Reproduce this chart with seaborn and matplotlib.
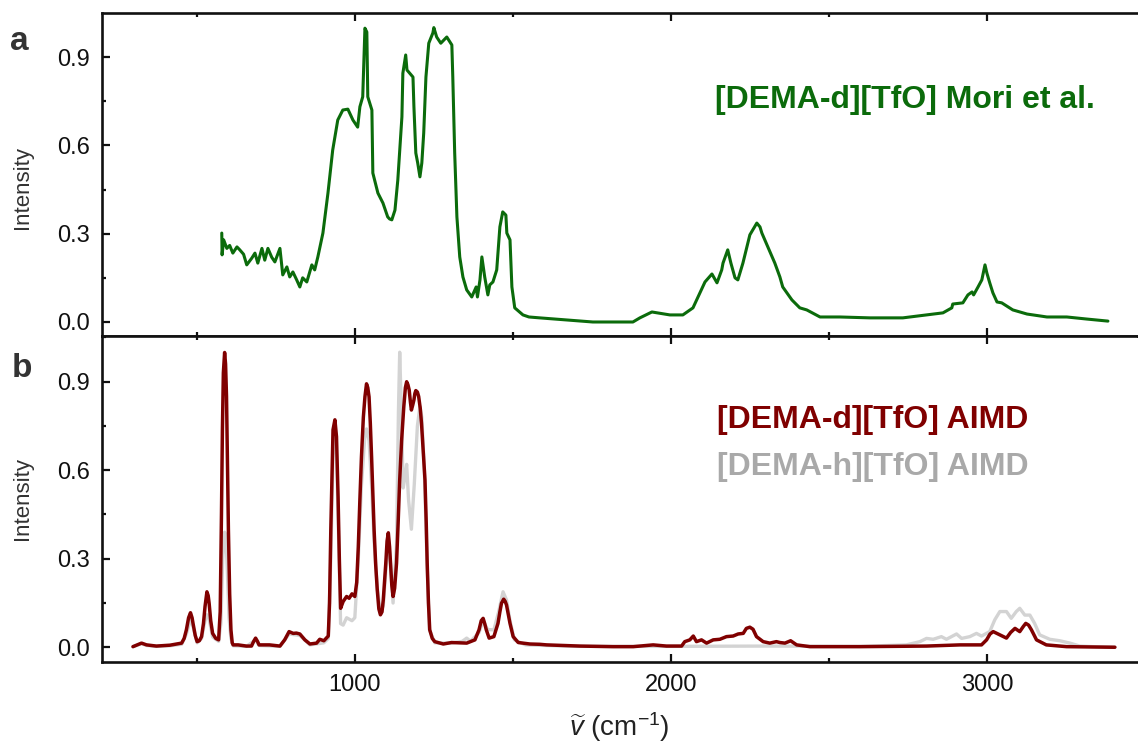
import matplotlib
matplotlib.use("Agg")
import matplotlib.pyplot as plt
import seaborn as sns
from matplotlib.ticker import MultipleLocator, FormatStrFormatter

# ---------------- data ----------------
mori_wn = [579, 580, 585, 595, 604, 614, 627, 636, 648, 658, 674, 684, 693, 706, 715, 725, 737, 747,
           763, 772, 785, 794, 804, 816, 826, 835, 848, 864, 873, 883, 899, 915, 930, 946, 962, 978,
           994, 1009, 1016, 1025, 1032, 1038, 1041, 1054, 1057, 1073, 1089, 1104, 1110, 1117, 1127,
           1136, 1149, 1152, 1161, 1165, 1184, 1187, 1193, 1199, 1206, 1212, 1218, 1225, 1234, 1247,
           1250, 1259, 1272, 1291, 1307, 1310, 1316, 1323, 1332, 1342, 1354, 1370, 1384, 1388, 1396,
           1402, 1411, 1421, 1427, 1437, 1449, 1459, 1468, 1478, 1481, 1491, 1497, 1506, 1532, 1551,
           1585, 1671, 1753, 1816, 1880, 1902, 1940, 1997, 2038, 2070, 2108, 2130, 2146, 2161, 2165,
           2180, 2190, 2203, 2212, 2228, 2250, 2272, 2282, 2288, 2307, 2329, 2345, 2354, 2383, 2408,
           2430, 2472, 2535, 2630, 2734, 2778, 2861, 2889, 2892, 2924, 2940, 2953, 2958, 2972, 2984,
           2994, 3000, 3009, 3019, 3032, 3047, 3082, 3127, 3190, 3253, 3316, 3383]
mori_int = [0.302, 0.228, 0.279, 0.25, 0.26, 0.234, 0.255, 0.245, 0.23, 0.194, 0.217, 0.234, 0.2, 0.25,
            0.21, 0.25, 0.22, 0.204, 0.25, 0.16, 0.187, 0.153, 0.17, 0.143, 0.119, 0.15, 0.136, 0.194,
            0.177, 0.221, 0.302, 0.438, 0.584, 0.686, 0.72, 0.723, 0.686, 0.662, 0.731, 0.765, 0.998,
            0.985, 0.765, 0.72, 0.506, 0.438, 0.404, 0.357, 0.35, 0.347, 0.38, 0.482, 0.697, 0.845,
            0.907, 0.856, 0.832, 0.731, 0.574, 0.54, 0.493, 0.54, 0.642, 0.832, 0.947, 0.982, 1.0,
            0.968, 0.947, 0.968, 0.941, 0.832, 0.574, 0.357, 0.221, 0.153, 0.109, 0.085, 0.119, 0.085,
            0.143, 0.221, 0.153, 0.092, 0.126, 0.136, 0.177, 0.323, 0.374, 0.363, 0.302, 0.279, 0.119,
            0.048, 0.024, 0.017, 0.014, 0.007, 0.0, 0.0, 0.0, 0.014, 0.034, 0.024, 0.024, 0.048, 0.136,
            0.163, 0.133, 0.177, 0.2, 0.245, 0.2, 0.15, 0.143, 0.2, 0.296, 0.336, 0.323, 0.302, 0.255,
            0.2, 0.153, 0.119, 0.075, 0.048, 0.041, 0.017, 0.017, 0.014, 0.014, 0.02, 0.031, 0.048,
            0.061, 0.065, 0.092, 0.102, 0.092, 0.119, 0.143, 0.194, 0.166, 0.133, 0.099, 0.068, 0.065,
            0.041, 0.027, 0.017, 0.017, 0.01, 0.003]

aimd_d_wn = [298, 325, 341, 372, 415, 452, 460, 467, 474, 480, 485, 488, 495, 501, 508, 515, 521, 526,
             532, 536, 539, 544, 550, 560, 569, 574, 578, 581, 584, 588, 591, 594, 597, 600, 604, 608,
             612, 615, 631, 657, 673, 680, 686, 692, 697, 730, 763, 778, 792, 805, 815, 826, 842, 858,
             879, 889, 902, 916, 920, 924, 928, 931, 937, 942, 947, 951, 955, 963, 974, 982, 991, 1000,
             1006, 1011, 1016, 1021, 1027, 1032, 1037, 1041, 1045, 1049, 1053, 1057, 1061, 1066, 1071,
             1076, 1081, 1086, 1090, 1094, 1098, 1102, 1106, 1110, 1113, 1117, 1121, 1126, 1132, 1137,
             1142, 1148, 1155, 1160, 1164, 1168, 1172, 1176, 1179, 1183, 1187, 1190, 1193, 1198, 1202,
             1207, 1211, 1216, 1222, 1226, 1229, 1233, 1237, 1245, 1253, 1280, 1306, 1354, 1380, 1393,
             1400, 1406, 1411, 1416, 1425, 1440, 1453, 1459, 1464, 1471, 1476, 1480, 1486, 1491, 1501,
             1517, 1554, 1585, 1607, 1712, 1817, 1881, 1944, 1986, 2034, 2044, 2060, 2071, 2081, 2097,
             2113, 2134, 2155, 2176, 2197, 2213, 2229, 2239, 2250, 2260, 2271, 2292, 2313, 2334, 2345,
             2361, 2379, 2398, 2440, 2598, 2809, 2915, 2983, 2999, 3010, 3020, 3041, 3062, 3075, 3089,
             3104, 3115, 3123, 3132, 3141, 3157, 3188, 3252, 3405]
aimd_d_int = [0.002, 0.014, 0.008, 0.004, 0.007, 0.014, 0.03, 0.059, 0.1, 0.117, 0.1, 0.081, 0.04,
              0.019, 0.022, 0.036, 0.08, 0.138, 0.188, 0.175, 0.149, 0.09, 0.047, 0.03, 0.025, 0.12,
              0.45, 0.737, 0.93, 0.999, 0.96, 0.85, 0.62, 0.398, 0.18, 0.059, 0.015, 0.008, 0.008,
              0.004, 0.004, 0.02, 0.031, 0.02, 0.008, 0.008, 0.004, 0.025, 0.053, 0.047, 0.048, 0.045,
              0.025, 0.011, 0.014, 0.027, 0.022, 0.038, 0.15, 0.398, 0.6, 0.737, 0.771, 0.714, 0.51,
              0.3, 0.132, 0.155, 0.172, 0.166, 0.181, 0.172, 0.22, 0.341, 0.5, 0.646, 0.78, 0.849,
              0.893, 0.88, 0.849, 0.76, 0.646, 0.52, 0.398, 0.28, 0.194, 0.13, 0.11, 0.12, 0.16, 0.22,
              0.285, 0.36, 0.388, 0.34, 0.285, 0.21, 0.172, 0.2, 0.285, 0.42, 0.567, 0.7, 0.816, 0.88,
              0.9, 0.89, 0.872, 0.83, 0.804, 0.82, 0.838, 0.86, 0.87, 0.865, 0.85, 0.81, 0.759, 0.67,
              0.567, 0.42, 0.285, 0.15, 0.059, 0.03, 0.019, 0.011, 0.016, 0.014, 0.025, 0.059, 0.09,
              0.098, 0.08, 0.059, 0.031, 0.036, 0.081, 0.12, 0.149, 0.163, 0.155, 0.143, 0.11, 0.081,
              0.036, 0.016, 0.011, 0.01, 0.008, 0.004, 0.002, 0.002, 0.008, 0.004, 0.004, 0.019, 0.025,
              0.038, 0.019, 0.025, 0.014, 0.025, 0.027, 0.036, 0.038, 0.045, 0.047, 0.064, 0.068, 0.061,
              0.036, 0.019, 0.014, 0.019, 0.016, 0.014, 0.022, 0.008, 0.002, 0.002, 0.004, 0.008, 0.008,
              0.025, 0.045, 0.053, 0.042, 0.031, 0.05, 0.064, 0.053, 0.07, 0.081, 0.075, 0.059, 0.025,
              0.008, 0.002, 0.0]

aimd_h_wn = [298, 325, 341, 372, 415, 452, 467, 480, 488, 501, 515, 526, 532, 539, 550, 569, 576, 582,
             588, 592, 597, 602, 608, 615, 657, 686, 697, 763, 792, 826, 858, 902, 916, 924, 931, 937,
             942, 947, 955, 963, 974, 991, 1000, 1011, 1021, 1032, 1037, 1045, 1053, 1061, 1071, 1081,
             1090, 1098, 1106, 1113, 1121, 1132, 1138, 1142, 1146, 1153, 1159, 1164, 1170, 1179, 1188,
             1198, 1206, 1212, 1220, 1228, 1236, 1253, 1306, 1340, 1354, 1366, 1393, 1406, 1420, 1440,
             1455, 1469, 1480, 1491, 1505, 1540, 1700, 2000, 2300, 2600, 2745, 2788, 2809, 2830, 2856,
             2872, 2904, 2920, 2946, 2967, 2983, 3009, 3025, 3041, 3062, 3077, 3093, 3104, 3120, 3136,
             3151, 3167, 3199, 3231, 3263, 3294, 3335, 3405]
aimd_h_int = [0.002, 0.012, 0.006, 0.003, 0.005, 0.01, 0.045, 0.095, 0.07, 0.015, 0.03, 0.09, 0.11,
              0.095, 0.035, 0.02, 0.08, 0.3, 0.39, 0.38, 0.25, 0.1, 0.03, 0.005, 0.003, 0.025, 0.006,
              0.003, 0.045, 0.04, 0.008, 0.015, 0.03, 0.3, 0.66, 0.72, 0.65, 0.45, 0.08, 0.075, 0.1,
              0.09, 0.1, 0.3, 0.55, 0.72, 0.74, 0.7, 0.55, 0.36, 0.2, 0.12, 0.14, 0.26, 0.37, 0.28,
              0.15, 0.35, 0.8, 1.0, 0.85, 0.54, 0.58, 0.62, 0.5, 0.4, 0.55, 0.75, 0.816, 0.78, 0.6, 0.3,
              0.06, 0.015, 0.014, 0.02, 0.031, 0.02, 0.05, 0.09, 0.06, 0.059, 0.12, 0.188, 0.16, 0.09,
              0.025, 0.008, 0.003, 0.003, 0.004, 0.003, 0.008, 0.019, 0.03, 0.027, 0.036, 0.027, 0.045,
              0.03, 0.036, 0.047, 0.038, 0.053, 0.093, 0.121, 0.121, 0.098, 0.121, 0.132, 0.109, 0.109,
              0.081, 0.042, 0.027, 0.022, 0.014, 0.004, 0.002, 0.0]

x_major_ticks = [1000, 2000, 3000]
label_top = "[DEMA-d][TfO] Mori et al."
label_d = "[DEMA-d][TfO] AIMD"
label_h = "[DEMA-h][TfO] AIMD"

# ---------------- style ----------------
sns.set_theme(style="ticks")
plt.rcParams["font.family"] = ["Liberation Sans", "DejaVu Sans"]
plt.rcParams["mathtext.fontset"] = "custom"
plt.rcParams["mathtext.rm"] = "Liberation Sans"
plt.rcParams["mathtext.it"] = "Liberation Sans:italic"

GREEN = "#0b6b0b"
RED = "#800000"
GRAY_LINE = "#d3d3d3"
GRAY_TEXT = "#a9a9a9"

W, H = 1138, 743
fig = plt.figure(figsize=(W / 100, H / 100), dpi=100)


def px_axes(l, t, r, b):
    return fig.add_axes([l / W, 1 - b / H, (r - l) / W, (b - t) / H])


ax1 = px_axes(102, 13, 1137, 336)
ax2 = px_axes(102, 336, 1137, 662)

sns.lineplot(x=mori_wn, y=mori_int, ax=ax1, color=GREEN, lw=2.2, sort=False,
             estimator=None, legend=False)
sns.lineplot(x=aimd_h_wn, y=aimd_h_int, ax=ax2, color=GRAY_LINE, lw=2.4, sort=False,
             estimator=None, legend=False)
sns.lineplot(x=aimd_d_wn, y=aimd_d_int, ax=ax2, color=RED, lw=2.5, sort=False,
             estimator=None, legend=False)

for ax, ylim in ((ax1, (-0.0476, 1.0496)), (ax2, (-0.05, 1.055))):
    ax.set_xlim(200, 3475)
    ax.set_ylim(*ylim)
    ax.set_xticks(x_major_ticks)
    ax.xaxis.set_minor_locator(MultipleLocator(500))
    ax.yaxis.set_major_locator(MultipleLocator(0.3))
    ax.yaxis.set_minor_locator(MultipleLocator(0.15))
    ax.yaxis.set_major_formatter(FormatStrFormatter("%.1f"))
    ax.tick_params(which="both", direction="in", top=True, right=False, width=1.6,
                   colors="#111111", labelsize=17, pad=8.5)
    ax.tick_params(which="major", length=5.5)
    ax.tick_params(which="minor", length=3)
    for side in ("left", "bottom", "top"):
        ax.spines[side].set_linewidth(1.9)
        ax.spines[side].set_color("#111111")
    ax.spines["right"].set_visible(False)
    ax.set_xlabel("")
    ax.set_ylabel("Intensity", fontsize=16, color="#333333")

ax1.tick_params(labelbottom=False)
ax1.yaxis.set_label_coords(-0.0667, 0.46)
ax2.yaxis.set_label_coords(-0.0667, 0.5)

ax1.text(2139, 0.727, label_top, color=GREEN, fontsize=23, fontweight="bold",
         ha="left", va="baseline")
ax2.text(2146, 0.743, label_d, color=RED, fontsize=23, fontweight="bold",
         ha="left", va="baseline")
ax2.text(2146, 0.584, label_h, color=GRAY_TEXT, fontsize=23, fontweight="bold",
         ha="left", va="baseline")

ax2.text(0.5, (662 - 736) / 326, r"$\widetilde{v}$ (cm$^{-1}$)", transform=ax2.transAxes,
         ha="center", va="baseline", fontsize=20, color="#222222")

fig.text(10 / W, 1 - 50 / H, "a", fontsize=24, fontweight="bold", color="#333333",
         va="baseline", ha="left")
fig.text(12 / W, 1 - 377 / H, "b", fontsize=24, fontweight="bold", color="#333333",
         va="baseline", ha="left")

fig.savefig("out.png", dpi=100)
